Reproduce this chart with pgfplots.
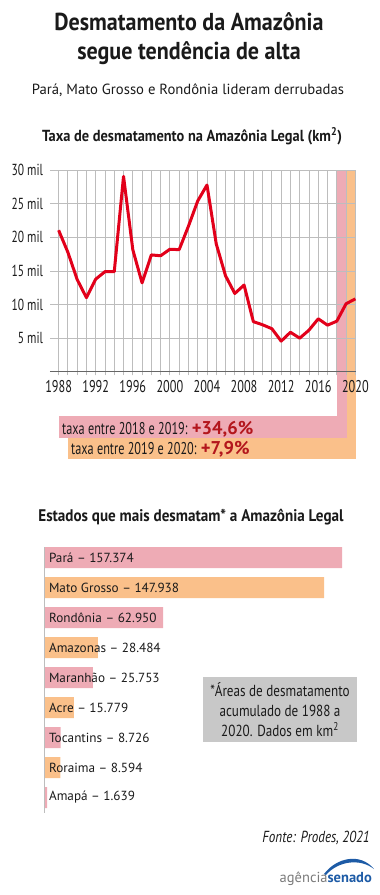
\documentclass[border=0pt]{standalone}
\usepackage{fontspec}
\setmainfont{PT Sans}
\newfontfamily\cond[FakeStretch=0.72, BoldFeatures={FakeStretch=0.9}]{PT Sans}
\newfontfamily\condb[FakeStretch=0.82]{PT Sans}
\usepackage{pgfplots}
\pgfplotsset{compat=1.18}
\definecolor{redline}{HTML}{E2001A}
\definecolor{pinkc}{HTML}{EEABB5}
\definecolor{orangec}{HTML}{FAC08A}
\definecolor{gridc}{HTML}{BDBDBD}
\definecolor{darkred}{HTML}{B3161C}
\definecolor{notegray}{HTML}{C8C8C8}
\definecolor{logoblue}{HTML}{1D5BA6}
\definecolor{logogray}{HTML}{7A7A7A}
\definecolor{textc}{HTML}{1A1A1A}
\begin{document}
\begin{tikzpicture}
\path[use as bounding box] (0pt,0pt) rectangle (380pt,-895pt);
% titles
\node[anchor=base, font=\cond\bfseries\fontsize{24.5}{24.5}\selectfont, text=textc, inner sep=0pt] at (189pt,-30.7pt) {Desmatamento da Amazônia};
\node[anchor=base, font=\cond\bfseries\fontsize{24.5}{24.5}\selectfont, text=textc, inner sep=0pt] at (189pt,-59.5pt) {segue tendência de alta};
\node[anchor=base, font=\fontsize{14.7}{14.7}\selectfont, text=textc, inner sep=0pt] at (188pt,-94.3pt) {Pará, Mato Grosso e Rondônia lideram derrubadas};
\node[anchor=base, font=\cond\bfseries\fontsize{16}{16}\selectfont, text=textc, inner sep=0pt] at (192pt,-141.7pt) {Taxa de desmatamento na Amazônia Legal (km\textsuperscript{2})};
% highlight bands
\fill[pinkc] (337.3pt,-170pt) rectangle (346.7pt,-416pt);
\fill[pinkc] (59pt,-416pt) rectangle (346.7pt,-437.5pt);
\fill[orangec] (346.7pt,-170pt) rectangle (356pt,-459pt);
\fill[orangec] (68pt,-437.5pt) rectangle (356pt,-459pt);
\node[anchor=base west, inner sep=0pt, font=\cond\fontsize{17}{17}\selectfont, text=textc] at (62pt,-434pt) {taxa entre 2018 e 2019: {\normalfont\bfseries\fontsize{18.5}{18.5}\selectfont\color{darkred}+34,6\%}};
\node[anchor=base west, inner sep=0pt, font=\cond\fontsize{17}{17}\selectfont, text=textc] at (71pt,-454pt) {taxa entre 2019 e 2020: {\normalfont\bfseries\fontsize{18.5}{18.5}\selectfont\color{darkred}+7,9\%}};
% line chart
\begin{axis}[
  at={(50pt,-371.9pt)}, anchor=south west,
  scale only axis, width=306pt, height=201.9pt,
  xmin=1987.07, xmax=2020.07, ymin=0, ymax=30000,
  axis lines*=left,
  y axis line style={draw=none},
  x axis line style={draw=gray!80!black, line width=0.9pt},
  xtick={1988,1992,...,2020},
  minor xtick={1988,...,2020},
  ytick={0,5000,10000,15000,20000,25000,30000},
  yticklabels={,5 mil,10 mil,15 mil,20 mil,25 mil,30 mil},
  scaled y ticks=false,
  grid=both,
  major grid style={gridc, line width=0.9pt},
  minor grid style={gridc, line width=0.9pt},
  tick align=outside,
  major tick length=3.5pt, minor tick length=3.5pt,
  xtick style={gridc, line width=0.9pt},
  ytick style={draw=none},
  /pgf/number format/assume math mode=true,
  xticklabel style={/pgf/number format/1000 sep={}, font=\cond\fontsize{17}{17}\selectfont, text=textc, yshift=-1pt},
  yticklabel style={font=\cond\fontsize{16}{16}\selectfont, text=textc},
  clip=false,
]
\addplot[redline, line width=3pt, line join=round] coordinates {
(1988,21050) (1989,17770) (1990,13730) (1991,11030) (1992,13786)
(1993,14896) (1994,14896) (1995,29059) (1996,18161) (1997,13227)
(1998,17383) (1999,17259) (2000,18226) (2001,18165) (2002,21651)
(2003,25396) (2004,27772) (2005,19014) (2006,14286) (2007,11651)
(2008,12911) (2009,7464) (2010,7000) (2011,6418) (2012,4571)
(2013,5891) (2014,5012) (2015,6207) (2016,7893) (2017,6947)
(2018,7536) (2019,10129) (2020,10851)};
\end{axis}
% bar chart title
\node[anchor=base, font=\cond\bfseries\fontsize{16.8}{16.8}\selectfont, text=textc, inner sep=0pt] at (191pt,-521.7pt) {Estados que mais desmatam* a Amazônia Legal};
\begin{axis}[
  at={(44pt,-813pt)}, anchor=south west,
  scale only axis, width=322pt, height=266pt,
  xmin=0, xmax=170000, ymin=-0.35, ymax=8.517,
  y dir=reverse,
  axis on top,
  axis x line=none,
  axis y line*=left,
  y axis line style={gridc, line width=1pt},
  ytick={0,...,8},
  yticklabels={Pará – 157.374, Mato Grosso – 147.938, Rondônia – 62.950, Amazonas – 28.484, Maranhão – 25.753, Acre – 15.779, Tocantins – 8.726, Roraima – 8.594, Amapá – 1.639},
  ytick style={draw=none},
  yticklabel style={anchor=west, font=\fontsize{13.2}{13.2}\selectfont, text=textc, xshift=1.5pt},
]
\addplot[xbar, bar width=21pt, bar shift=0pt, fill=pinkc, draw=none] coordinates {(157374,0) (62950,2) (25753,4) (8726,6) (1639,8)};
\addplot[xbar, bar width=21pt, bar shift=0pt, fill=orangec, draw=none] coordinates {(147938,1) (28484,3) (15779,5) (8594,7)};
\end{axis}
% note box
\fill[notegray] (203pt,-677pt) rectangle (357pt,-742pt);
\node[align=center, font=\condb\fontsize{16}{20}\selectfont, text=textc, inner sep=0pt] at (280pt,-709.5pt) {*Áreas de desmatamento\\acumulado de 1988 a\\2020. Dados em km\textsuperscript{2}};
% source
\node[anchor=base east, font=\condb\itshape\fontsize{16}{16}\selectfont, text=textc, inner sep=0pt] at (370pt,-842pt) {Fonte: Prodes, 2021};
% logo
\fill[logoblue] (324pt,-874pt) .. controls (336pt,-858pt) and (360pt,-852pt) .. (374pt,-869pt) .. controls (360pt,-858pt) and (338pt,-861pt) .. (326pt,-875pt) -- cycle;
\node[anchor=base east, inner sep=0pt, font=\fontsize{14.5}{14.5}\selectfont] at (372pt,-882pt) {{\color{logogray}agência}{\color{logoblue}\bfseries senado}};
\end{tikzpicture}
\end{document}
